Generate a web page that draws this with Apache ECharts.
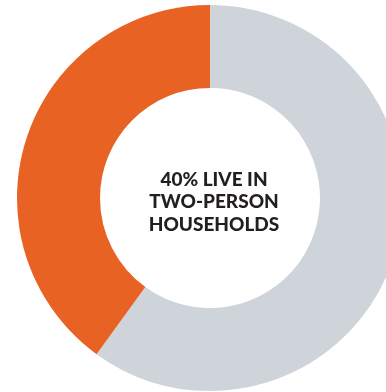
<!DOCTYPE html>
<html>
<head>
<meta charset="utf-8">
<script src="https://cdn.jsdelivr.net/npm/echarts@6/dist/echarts.min.js"></script>
<style>
  html, body { margin: 0; padding: 0; background: #fff; }
  #chart { width: 386px; height: 392px; }
</style>
</head>
<body>
<div id="chart"></div>
<script>
// Household shares shown in the ring
const categories = ['Other households', 'Two-person households'];
const shares = [60, 40];
const colors = ['#CFD4DA', '#E86224'];
const centerLines = ['40% LIVE IN', 'TWO-PERSON', 'HOUSEHOLDS'];

const chart = echarts.init(document.getElementById('chart'), null, { renderer: 'canvas' });

chart.setOption({
  animation: false,
  backgroundColor: '#ffffff',
  series: [{
    type: 'pie',
    center: [210, 198],
    radius: [110, 193],
    startAngle: 90,
    clockwise: true,
    silent: true,
    label: { show: false },
    labelLine: { show: false },
    data: categories.map((name, i) => ({
      name,
      value: shares[i],
      itemStyle: { color: colors[i] }
    }))
  }],
  graphic: [{
    type: 'text',
    silent: true,
    style: {
      x: 214,
      y: 202,
      text: centerLines.join('\n'),
      align: 'center',
      verticalAlign: 'middle',
      fill: '#231F20',
      font: '900 19px Lato',
      lineHeight: 22.5
    }
  }]
});
</script>
</body>
</html>
